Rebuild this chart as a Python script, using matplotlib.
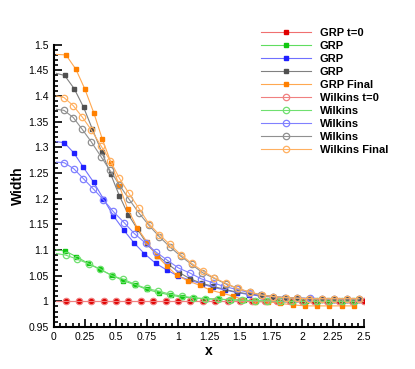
import matplotlib
matplotlib.use("Agg")
import matplotlib.pyplot as plt
from matplotlib.ticker import MultipleLocator, FuncFormatter

plt.rcParams['font.family'] = ['Liberation Sans', 'DejaVu Sans']

# --- data (Lagrangian node positions) ---
x_t0 = [0.02, 0.1, 0.2, 0.3, 0.4, 0.5, 0.6, 0.7, 0.8, 0.9, 1.0, 1.1, 1.2, 1.3,
        1.4, 1.5, 1.6, 1.7, 1.8, 1.9, 2.0, 2.1, 2.2, 2.3, 2.4, 2.5]
w_t0 = [1.0, 1.0, 1.0, 1.0, 1.0, 1.0, 1.0, 1.0, 1.0, 1.0, 1.0, 1.0, 1.0, 1.0,
        1.0, 1.0, 1.0, 1.0, 1.0, 1.0, 1.0, 1.0, 1.0, 1.0, 1.0, 1.0]

x_grp_green = [0.02, 0.09, 0.18, 0.275, 0.37, 0.465, 0.56, 0.655, 0.75, 0.845, 0.94, 1.035, 1.13,
               1.23, 1.33, 1.43, 1.53, 1.63, 1.73, 1.83, 1.93, 2.03, 2.13, 2.23, 2.33, 2.43]
w_grp_green = [1.100, 1.098, 1.087, 1.074, 1.062, 1.051, 1.040, 1.032, 1.023, 1.017, 1.012, 1.008, 1.006,
               1.005, 1.004, 1.003, 1.002, 1.001, 1.000, 0.999, 0.999, 1.000, 1.000, 1.000, 1.000, 1.000]

x_grp_blue = [0.02, 0.083, 0.161, 0.237, 0.32, 0.398, 0.478, 0.565, 0.645, 0.728, 0.82, 0.909, 1.003, 1.095,
              1.19, 1.285, 1.38, 1.475, 1.575, 1.675, 1.77, 1.865, 1.96, 2.06, 2.16, 2.26, 2.36, 2.46]
w_grp_blue = [1.311, 1.309, 1.289, 1.261, 1.232, 1.200, 1.167, 1.138, 1.114, 1.093, 1.074, 1.061, 1.049, 1.041,
              1.034, 1.027, 1.022, 1.017, 1.013, 1.010, 1.008, 1.006, 1.005, 1.004, 1.004, 1.003, 1.003, 1.003]

x_grp_grey = [0.02, 0.086, 0.164, 0.239, 0.309, 0.385, 0.457, 0.527, 0.599, 0.675, 0.752, 0.835, 0.922, 1.01, 1.097,
              1.19, 1.285, 1.379, 1.473, 1.575, 1.675, 1.77, 1.87, 1.965, 2.06, 2.16, 2.26, 2.36, 2.46]
w_grp_grey = [1.444, 1.440, 1.414, 1.378, 1.336, 1.291, 1.248, 1.206, 1.169, 1.140, 1.111, 1.089, 1.072, 1.056, 1.044,
              1.035, 1.029, 1.023, 1.018, 1.014, 1.012, 1.009, 1.007, 1.006, 1.005, 1.005, 1.004, 1.004, 1.004]

x_grp_final = [0.02, 0.097, 0.177, 0.25, 0.323, 0.39, 0.46, 0.527, 0.594, 0.672, 0.752, 0.828, 0.909, 0.989, 1.078,
               1.177, 1.258, 1.352, 1.446, 1.527, 1.62, 1.723, 1.823, 1.925, 2.024, 2.124, 2.22, 2.32, 2.42]
w_grp_final = [1.481, 1.480, 1.452, 1.413, 1.366, 1.316, 1.270, 1.225, 1.180, 1.143, 1.115, 1.089, 1.069, 1.051, 1.040,
               1.031, 1.022, 1.016, 1.010, 1.003, 0.999, 0.999, 0.996, 0.993, 0.991, 0.991, 0.991, 0.991, 0.991]

x_wil_green = [0.02, 0.094, 0.188, 0.28, 0.372, 0.465, 0.559, 0.653, 0.747, 0.841, 0.935, 1.03, 1.125,
               1.22, 1.32, 1.42, 1.52, 1.62, 1.72, 1.82, 1.92, 2.02, 2.12, 2.22, 2.32, 2.42]
w_wil_green = [1.093, 1.090, 1.082, 1.073, 1.063, 1.050, 1.043, 1.033, 1.025, 1.020, 1.014, 1.010, 1.007,
               1.005, 1.004, 1.003, 1.002, 1.001, 1.001, 1.000, 1.000, 1.000, 1.000, 1.000, 1.000, 1.000]

x_wil_blue = [0.02, 0.083, 0.161, 0.237, 0.317, 0.398, 0.478, 0.567, 0.648, 0.74, 0.823, 0.914, 1.003, 1.097,
              1.185, 1.28, 1.373, 1.473, 1.573, 1.67, 1.765, 1.863, 1.962, 2.065, 2.164, 2.26, 2.36, 2.46]
w_wil_blue = [1.271, 1.270, 1.258, 1.239, 1.219, 1.198, 1.175, 1.153, 1.132, 1.113, 1.096, 1.080, 1.065, 1.055,
              1.044, 1.036, 1.029, 1.023, 1.017, 1.012, 1.009, 1.007, 1.006, 1.006, 1.005, 1.005, 1.005, 1.005]

x_wil_grey = [0.02, 0.081, 0.156, 0.228, 0.30, 0.379, 0.452, 0.527, 0.605, 0.685, 0.766, 0.849, 0.935, 1.022, 1.11,
              1.196, 1.29, 1.385, 1.48, 1.578, 1.673, 1.768, 1.867, 1.962, 2.06, 2.16, 2.26, 2.36, 2.46]
w_wil_grey = [1.374, 1.372, 1.358, 1.335, 1.311, 1.282, 1.255, 1.227, 1.199, 1.172, 1.148, 1.126, 1.106, 1.088, 1.072,
              1.056, 1.045, 1.034, 1.025, 1.018, 1.012, 1.009, 1.007, 1.006, 1.005, 1.005, 1.005, 1.005, 1.005]

x_wil_final = [0.02, 0.081, 0.156, 0.228, 0.301, 0.379, 0.454, 0.527, 0.605, 0.685, 0.766, 0.849, 0.933, 1.022, 1.11,
               1.199, 1.29, 1.387, 1.481, 1.58, 1.675, 1.769, 1.869, 1.962, 2.06, 2.16, 2.26, 2.36, 2.46]
w_wil_final = [1.400, 1.397, 1.381, 1.359, 1.334, 1.303, 1.274, 1.240, 1.210, 1.181, 1.151, 1.130, 1.111, 1.091, 1.074,
               1.059, 1.046, 1.035, 1.025, 1.018, 1.012, 1.009, 1.007, 1.006, 1.005, 1.005, 1.005, 1.005, 1.005]

grp_labels = ['GRP t=0', 'GRP', 'GRP', 'GRP', 'GRP Final']
wil_labels = ['Wilkins t=0', 'Wilkins', 'Wilkins', 'Wilkins', 'Wilkins Final']

grp_series = [(x_t0, w_t0), (x_grp_green, w_grp_green), (x_grp_blue, w_grp_blue),
              (x_grp_grey, w_grp_grey), (x_grp_final, w_grp_final)]
wil_series = [(x_t0, w_t0), (x_wil_green, w_wil_green), (x_wil_blue, w_wil_blue),
              (x_wil_grey, w_wil_grey), (x_wil_final, w_wil_final)]

mark_cols = ['#e00000', '#10c810', '#2020ff', '#505050', '#ff8000']
line_cols = ['#f07070', '#60dd60', '#7070ff', '#808080', '#ffa850']
wil_cols = ['#f08080', '#70e070', '#8080ff', '#909090', '#ffb060']

fig = plt.figure(figsize=(4.15, 3.69), dpi=100)
ax = fig.add_axes([0.130, 0.114, 0.747, 0.765])

for (xs, ws), lab, mc, lc in zip(grp_series, grp_labels, mark_cols, line_cols):
    ax.plot(xs, ws, color=lc, lw=0.8, marker='s', ms=2.8, mfc=mc, mec=mc,
            markevery=slice(1, None), label=lab)

for (xs, ws), lab, wc in zip(wil_series, wil_labels, wil_cols):
    ax.plot(xs, ws, color=wc, lw=0.8, marker='o', ms=4.6, mfc='none', mec=wc, mew=0.9,
            markevery=slice(1, None), label=lab)

ax.set_xlim(0, 2.5)
ax.set_ylim(0.95, 1.5)
for s in ['top', 'right']:
    ax.spines[s].set_visible(False)
for s in ['left', 'bottom']:
    ax.spines[s].set_linewidth(1.5)

ax.xaxis.set_major_locator(MultipleLocator(0.25))
ax.xaxis.set_minor_locator(MultipleLocator(0.05))
ax.yaxis.set_major_locator(MultipleLocator(0.05))
ax.yaxis.set_minor_locator(MultipleLocator(0.01))
fmt = FuncFormatter(lambda v, p: '%g' % round(v, 3))
ax.xaxis.set_major_formatter(fmt)
ax.yaxis.set_major_formatter(fmt)
ax.tick_params(which='both', direction='in', labelsize=7.5, width=1.2)
ax.tick_params(which='major', length=6, pad=4)
ax.tick_params(which='minor', length=3)

ax.set_xlabel('x', fontsize=10, fontweight='bold', labelpad=1)
ax.set_ylabel('Width', fontsize=10, fontweight='bold', labelpad=2)

ax.legend(loc='upper left', bbox_to_anchor=(0.615, 0.94), bbox_transform=fig.transFigure,
          frameon=False, prop={'weight': 'bold', 'size': 8},
          handlelength=4.5, handletextpad=0.8, labelspacing=0.27, borderpad=0)

fig.savefig('out.png', dpi=100)
